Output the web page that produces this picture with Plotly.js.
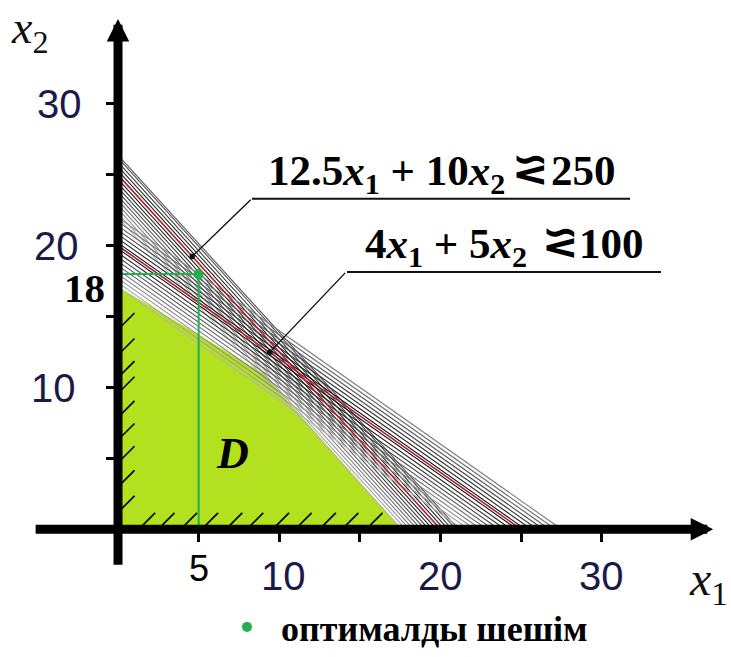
<!DOCTYPE html>
<html><head><meta charset="utf-8">
<script src="https://cdn.plot.ly/plotly-3.0.1.min.js"></script>
<style>html,body{margin:0;padding:0;background:#fff}#chart{width:731px;height:657px}</style>
</head><body><div id="chart"></div>
<script>
// constraint 1: 12.5 x1 + 10 x2 <~ 250 (fuzzy band of levels)
const coefA = [12.5, 10];
const rhsA = 250;
const bandA = [220, 223, 226, 229, 232, 235, 238, 241, 244, 247, 253, 256, 259, 262, 264];
// constraint 2: 4 x1 + 5 x2 <~ 100
const coefB = [4, 5];
const rhsB = 100;
const bandB = [85.5, 87, 88.5, 90, 91.5, 93, 94.5, 96, 97.5, 99, 101, 102.5, 104, 105.5, 107, 108.5, 110];
// feasible region D
const regionX1 = [0, 0, 9, 17.6, 0];
const regionX2 = [0, 17.1, 11, 0, 0];
// optimal solution
const optX1 = [5];
const optX2 = [18];
const optName = 'оптималды шешім';
// ticks
const tickVals = [5, 10, 15, 20, 25, 30];
const xTickLabels = ['5', '10', '', '20', '', '30'];
const yTickLabels = ['', '10', '', '20', '', '30'];
// hatch marks for x1 >= 0, x2 >= 0
const hatchAlongY = [1.9, 3.7, 5.4, 7.0, 8.6, 10.3, 11.4, 13.0, 14.8];
const hatchAlongX = [1.9, 3.1, 4.5, 5.8, 7.3, 8.6, 10.2, 11.6, 13.1, 14.5, 16.0];

function levelLine(coef, c) {
  return {x: [0, c / coef[0]], y: [c / coef[1], 0]};
}
function grayFor(c, rhs, band) {
  const maxD = Math.max(...band.map(v => Math.abs(v - rhs)));
  const d = Math.abs(c - rhs) / maxD;
  const g = Math.round(10 + 170 * d);
  return 'rgb(' + g + ',' + g + ',' + g + ')';
}

const traces = [];
traces.push({
  x: regionX1, y: regionX2, mode: 'lines', fill: 'toself',
  fillcolor: '#b3e01f', line: {width: 0, color: '#b3e01f'},
  showlegend: false, hoverinfo: 'skip'
});
function addBand(coef, rhs, band) {
  band.forEach(c => {
    const L = levelLine(coef, c);
    traces.push({x: L.x, y: L.y, mode: 'lines',
      line: {color: grayFor(c, rhs, band), width: 1.1},
      showlegend: false, hoverinfo: 'skip'});
  });
}
addBand(coefA, rhsA, bandA);
addBand(coefB, rhsB, bandB);
[[coefA, rhsA], [coefB, rhsB]].forEach(([coef, rhs]) => {
  const L = levelLine(coef, rhs);
  traces.push({x: L.x, y: L.y, mode: 'lines', line: {color: '#b01c2e', width: 1.6},
    showlegend: false, hoverinfo: 'skip'});
});
// hatch marks
traces.push({
  x: hatchAlongY.map(() => 0.62), y: hatchAlongY, mode: 'markers',
  marker: {symbol: 'line-ne', size: 13, line: {width: 1.6, color: '#000'}},
  showlegend: false, hoverinfo: 'skip'
});
traces.push({
  x: hatchAlongX, y: hatchAlongX.map(() => 0.7), mode: 'markers',
  marker: {symbol: 'line-ne', size: 13, line: {width: 1.6, color: '#000'}},
  showlegend: false, hoverinfo: 'skip'
});
// guide lines to optimum
traces.push({
  x: [0, optX1[0], optX1[0]], y: [optX2[0], optX2[0], 0], mode: 'lines',
  line: {color: '#22b14c', width: 2}, showlegend: false, hoverinfo: 'skip'
});
traces.push({
  x: optX1, y: optX2, mode: 'markers', name: '<b>' + optName + '</b>',
  marker: {color: '#22b14c', size: 10, symbol: 'circle'}, showlegend: true
});

const annotations = [];
// axis arrows
annotations.push({x: 36.9, y: 0, ax: -5.2, ay: 0, xref: 'x', yref: 'y', axref: 'x', ayref: 'y',
  text: '', showarrow: true, arrowhead: 2, arrowsize: 0.5, arrowwidth: 9, arrowcolor: '#000'});
annotations.push({x: 0, y: 36.0, ax: 0, ay: -2.6, xref: 'x', yref: 'y', axref: 'x', ayref: 'y',
  text: '', showarrow: true, arrowhead: 2, arrowsize: 0.5, arrowwidth: 9, arrowcolor: '#000'});
const tickFont = {family: 'Liberation Sans Narrow, Liberation Sans, Arial', size: 40, color: '#1a1a4a'};
tickVals.forEach((v, i) => {
  if (xTickLabels[i]) {
    const isFive = xTickLabels[i] === '5';
    annotations.push({x: v, y: isFive ? -1.2 : -1.6, xref: 'x', yref: 'y', text: xTickLabels[i],
      showarrow: false, xanchor: 'center', yanchor: 'top', xshift: v === 10 ? 4 : 0,
      font: isFive ? {family: 'Liberation Sans', size: 36, color: '#000'} : tickFont});
  }
  if (yTickLabels[i]) {
    annotations.push({x: -3.6, y: v, xref: 'x', yref: 'y', text: yTickLabels[i],
      showarrow: false, xanchor: 'center', yanchor: 'middle', xshift: v === 10 ? -6 : (v === 20 ? -3 : 0),
      font: tickFont});
  }
});
// 18 label
annotations.push({x: -2.1, y: optX2[0] - 1, xref: 'x', yref: 'y', text: '<b>' + optX2[0] + '</b>',
  showarrow: false, xanchor: 'center', yanchor: 'middle',
  font: {family: 'Liberation Serif', size: 41, color: '#000'}});
// D label
annotations.push({x: 7.07, y: 5.37, xref: 'x', yref: 'y', text: '<b><i>D</i></b>',
  showarrow: false, font: {family: 'Liberation Serif', size: 44, color: '#000'}});
// axis titles
annotations.push({x: 30 / 731, y: 1, xref: 'paper', yref: 'paper',
  text: '<i>x</i><sub>2</sub>', showarrow: false, xanchor: 'center', yanchor: 'top',
  font: {family: 'Liberation Serif', size: 46, color: '#111'}});
annotations.push({x: 708 / 731, y: 1 - 588 / 657, xref: 'paper', yref: 'paper',
  text: '<i>x</i><sub>1</sub>', showarrow: false, xanchor: 'center', yanchor: 'middle',
  font: {family: 'Liberation Serif', size: 48, color: '#111'}});
// constraint labels: lhs, fuzzy sign, rhs
const lblFont = {family: 'Liberation Serif', size: 43, color: '#000'};
function constraintLabel(coef, rhs, xLeft, xSign, xRhs, yMid) {
  annotations.push({x: xLeft / 731, y: 1 - yMid / 657, xref: 'paper', yref: 'paper',
    text: '<b>' + coef[0] + '<i>x</i><sub>1</sub> + ' + coef[1] + '<i>x</i><sub>2</sub></b>',
    showarrow: false, xanchor: 'left', yanchor: 'middle', font: lblFont});
  annotations.push({x: xSign / 731, y: 1 - (yMid - 5) / 657, xref: 'paper', yref: 'paper',
    text: '<b>\u2A9D</b>', showarrow: false, xanchor: 'center', yanchor: 'middle',
    font: {family: 'DejaVu Sans', size: 44, color: '#000'}});
  annotations.push({x: xRhs / 731, y: 1 - (yMid - 4) / 657, xref: 'paper', yref: 'paper',
    text: '<b>' + rhs + '</b>', showarrow: false, xanchor: 'left', yanchor: 'middle', font: lblFont});
}
constraintLabel(coefA, rhsA, 266, 530, 549, 176);
constraintLabel(coefB, rhsB, 363, 560, 577, 250);
// leader lines
const tA = 4.6, tB = 9.4;
annotations.push({x: tA, y: (rhsA - coefA[0] * tA) / coefA[1], xref: 'x', yref: 'y', text: '',
  showarrow: true, ax: 60, ay: -58, arrowhead: 6, arrowsize: 1, arrowwidth: 1.4, arrowcolor: '#111'});
annotations.push({x: tB, y: (rhsB - coefB[0] * tB) / coefB[1], xref: 'x', yref: 'y', text: '',
  showarrow: true, ax: 77, ay: -81, arrowhead: 6, arrowsize: 1, arrowwidth: 1.4, arrowcolor: '#111'});

const shapes = [
  {type: 'line', xref: 'paper', yref: 'paper', x0: 252 / 731, x1: 630 / 731, y0: 1 - 201 / 657, y1: 1 - 201 / 657,
    line: {color: '#111', width: 2}},
  {type: 'line', xref: 'paper', yref: 'paper', x0: 347 / 731, x1: 661 / 731, y0: 1 - 275 / 657, y1: 1 - 275 / 657,
    line: {color: '#111', width: 2}}
];

const layout = {
  width: 731, height: 657,
  margin: {l: 0, r: 0, t: 0, b: 0},
  paper_bgcolor: '#fff', plot_bgcolor: '#fff',
  xaxis: {range: [-7.316, 38.004], showgrid: false, zeroline: false, showline: false,
    tickvals: tickVals, ticks: 'outside', ticklen: 12, tickwidth: 3, tickcolor: '#000',
    showticklabels: false, anchor: 'free', position: 122 / 657, fixedrange: true},
  yaxis: {range: [-8.514, 37.334], showgrid: false, zeroline: false, showline: false,
    tickvals: tickVals, ticks: 'outside', ticklen: 12, tickwidth: 3, tickcolor: '#000',
    showticklabels: false, anchor: 'free', position: 118 / 731, fixedrange: true},
  showlegend: true,
  legend: {x: 213 / 731, y: 1 - 634 / 657, xanchor: 'left', yanchor: 'middle',
    bgcolor: 'rgba(0,0,0,0)', borderwidth: 0, itemwidth: 58,
    font: {family: 'Liberation Serif', size: 36, color: '#000'}},
  annotations: annotations,
  shapes: shapes
};
Plotly.newPlot('chart', traces, layout, {displayModeBar: false, staticPlot: true});
</script></body></html>
